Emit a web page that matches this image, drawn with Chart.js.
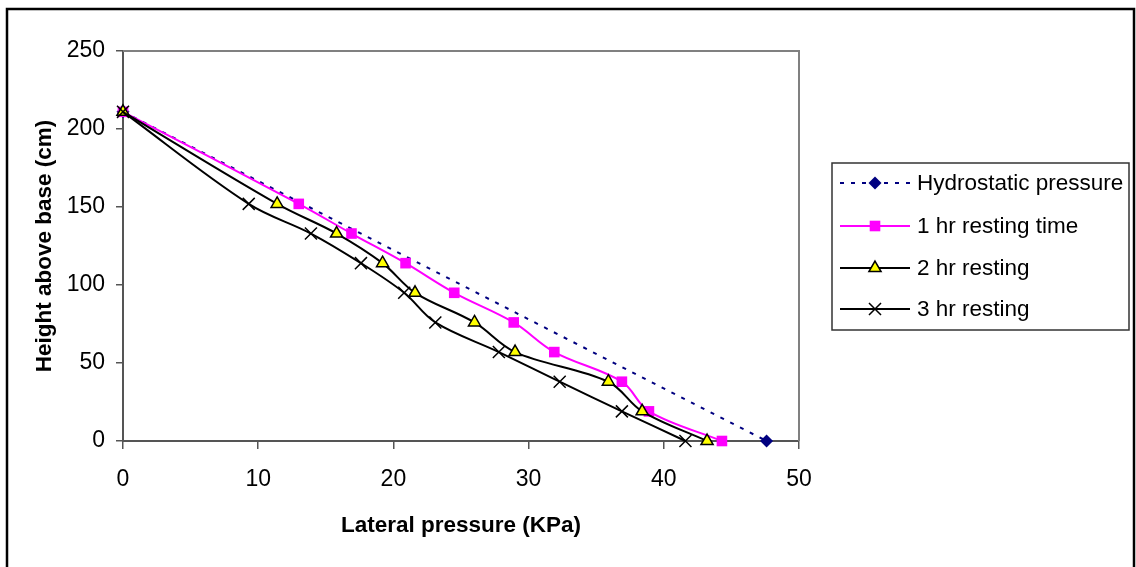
<!DOCTYPE html>
<html>
<head>
<meta charset="utf-8">
<title>Lateral pressure vs height</title>
<script src="https://cdn.jsdelivr.net/npm/chart.js@4.4.1/dist/chart.umd.min.js"></script>
<style>
  html, body { margin: 0; padding: 0; background: #ffffff; }
  #wrap { width: 1136px; height: 567px; position: relative; }
  canvas { display: block; }
</style>
</head>
<body>
<div id="wrap"><canvas id="chart" width="1136" height="567"></canvas></div>
<script>
// Measurement heights (cm above base)
const heights = [211, 152, 133, 114, 95, 76, 57, 38, 19, 0];
// Hydrostatic line runs from the top of the pour to the base
const hydroHeights = [211, 0];
const hydroPressure = [0, 47.6];
// Measured lateral pressure (KPa) after each resting time
const oneHour = [0, 13.0, 16.9, 20.9, 24.5, 28.9, 31.9, 36.9, 38.9, 44.3];
const twoHour = [0, 11.4, 15.8, 19.2, 21.6, 26.0, 29.0, 35.9, 38.4, 43.2];
const threeHour = [0, 9.3, 13.9, 17.6, 20.8, 23.1, 27.8, 32.3, 36.9, 41.6];

const seriesNames = ['Hydrostatic pressure', '1 hr resting time', '2 hr resting', '3 hr resting'];
const xTicks = [0, 10, 20, 30, 40, 50];
const yTicks = [0, 50, 100, 150, 200, 250];
const xTitle = 'Lateral pressure (KPa)';
const yTitle = 'Height above base (cm)';

const FONT = "'Liberation Sans', Arial, sans-serif";

function pairs(xs, ys) {
  return xs.map((x, i) => ({ x: x, y: ys[i] }));
}

const datasets = [
  {
    label: seriesNames[0],
    data: pairs(hydroPressure, hydroHeights),
    borderColor: '#000080',
    backgroundColor: '#000080',
    borderWidth: 2,
    borderDash: [4, 7],
    tension: 0,
    pointStyle: 'rectRot',
    pointRadius: 6.5,
    pointBorderWidth: 0,
    clip: false,
    order: 4
  },
  {
    label: seriesNames[1],
    data: pairs(oneHour, heights),
    borderColor: '#ff00ff',
    backgroundColor: '#ff00ff',
    borderWidth: 2,
    tension: 0.35,
    pointStyle: 'rect',
    pointRadius: 7.5,
    pointBorderWidth: 0,
    clip: false,
    order: 3
  },
  {
    label: seriesNames[2],
    data: pairs(twoHour, heights),
    borderColor: '#000000',
    backgroundColor: '#ffff00',
    pointBorderColor: '#000000',
    borderWidth: 2,
    tension: 0.35,
    pointStyle: 'triangle',
    pointRadius: 7,
    pointBorderWidth: 1.5,
    clip: false,
    order: 2
  },
  {
    label: seriesNames[3],
    data: pairs(threeHour, heights),
    borderColor: '#000000',
    backgroundColor: '#000000',
    pointBorderColor: '#000000',
    borderWidth: 2,
    tension: 0.35,
    pointStyle: 'crossRot',
    pointRadius: 8.5,
    pointBorderWidth: 1.5,
    clip: false,
    order: 1
  }
];

// Outer frame, plot-area border on the top/right and the boxed legend
const framePlugin = {
  id: 'frameAndLegend',
  beforeDatasetsDraw(chart) {
    const { ctx, chartArea: a } = chart;
    ctx.save();
    ctx.strokeStyle = '#808080';
    ctx.lineWidth = 2;
    ctx.beginPath();
    ctx.moveTo(a.left, a.top);
    ctx.lineTo(a.right, a.top);
    ctx.lineTo(a.right, a.bottom);
    ctx.stroke();
    ctx.restore();
  },
  afterDraw(chart) {
    const { ctx } = chart;
    ctx.save();
    // outer frame
    ctx.strokeStyle = '#000000';
    ctx.lineWidth = 2.5;
    ctx.strokeRect(7, 9, 1127, 620);

    // legend box
    const box = { left: 832, top: 163, right: 1129, bottom: 330 };
    ctx.strokeStyle = '#333333';
    ctx.lineWidth = 1.5;
    ctx.strokeRect(box.left, box.top, box.right - box.left, box.bottom - box.top);

    const rows = [183, 226, 268, 309];
    const x0 = 840, x1 = 910, mx = 875, tx = 917;
    ctx.font = '22.5px ' + FONT;
    ctx.textBaseline = 'middle';
    ctx.textAlign = 'left';
    chart.data.datasets.forEach((ds, i) => {
      const y = rows[i];
      ctx.save();
      ctx.strokeStyle = ds.borderColor;
      ctx.lineWidth = ds.borderWidth;
      ctx.setLineDash(ds.borderDash || []);
      ctx.beginPath();
      ctx.moveTo(x0, y);
      ctx.lineTo(x1, y);
      ctx.stroke();
      ctx.restore();

      ctx.save();
      ctx.fillStyle = ds.backgroundColor;
      ctx.strokeStyle = ds.pointBorderColor || ds.borderColor;
      ctx.lineWidth = ds.pointBorderWidth || 0;
      Chart.helpers.drawPoint(ctx, {
        pointStyle: ds.pointStyle,
        radius: ds.pointRadius,
        rotation: 0,
        borderWidth: ds.pointBorderWidth || 0
      }, mx, y);
      ctx.restore();

      ctx.fillStyle = '#000000';
      ctx.fillText(ds.label, tx, y + 1);
    });
    ctx.restore();
  }
};

new Chart(document.getElementById('chart'), {
  type: 'line',
  data: { datasets: datasets },
  options: {
    responsive: false,
    animation: false,
    devicePixelRatio: 1,
    layout: { padding: { top: 51, right: 337, left: 0, bottom: 0 } },
    plugins: {
      legend: { display: false },
      tooltip: { enabled: false }
    },
    scales: {
      x: {
        type: 'linear',
        min: 0,
        max: 50,
        afterBuildTicks: s => { s.ticks = xTicks.map(v => ({ value: v })); },
        afterFit: s => { s.height = 126; },
        border: { color: '#555555', width: 2 },
        grid: { drawOnChartArea: false, color: '#555555', tickLength: 8, lineWidth: 1.5 },
        ticks: { color: '#000000', font: { family: FONT, size: 23 }, padding: 17, maxRotation: 0 },
        title: {
          display: true,
          text: xTitle,
          color: '#000000',
          font: { family: FONT, size: 22.5, weight: 'bold' },
          padding: { top: 0, bottom: 28 }
        }
      },
      y: {
        type: 'linear',
        min: 0,
        max: 250,
        afterBuildTicks: s => { s.ticks = yTicks.map(v => ({ value: v })); },
        afterFit: s => { s.width = 123; },
        border: { color: '#555555', width: 2 },
        grid: { drawOnChartArea: false, color: '#555555', tickLength: 7, lineWidth: 1.5 },
        ticks: { color: '#000000', font: { family: FONT, size: 23 }, padding: 11 },
        title: {
          display: true,
          text: yTitle,
          color: '#000000',
          font: { family: FONT, size: 22.5, weight: 'bold' },
          padding: { top: 31, bottom: 0 }
        }
      }
    }
  },
  plugins: [framePlugin]
});
</script>
</body>
</html>
